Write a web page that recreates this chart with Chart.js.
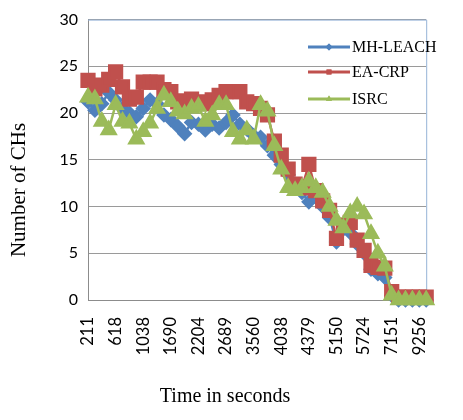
<!DOCTYPE html>
<html>
<head>
<meta charset="utf-8">
<script src="https://cdn.jsdelivr.net/npm/chart.js@4.4.1/dist/chart.umd.min.js"></script>
<style>
  html, body { margin: 0; padding: 0; background: #fff; }
</style>
</head>
<body>
<canvas id="chsChart" width="463" height="420"></canvas>
<script>
// only the labels printed on the axis are known; the rest stay blank
const timeLabels = [
  '211', '', '', '', '618', '', '', '', '1038', '', '', '', '1690', '', '', '', '2204', '', '', '',
  '2689', '', '', '', '3560', '', '', '', '4038', '', '', '', '4379', '', '', '', '5150', '', '', '',
  '5724', '', '', '', '7151', '', '', '', '9256', ''
];
const mhLeach = [
  21.2, 20.3, 21, 22.2, 21.4, 20.5, 20, 19.6, 20.5, 21.4, 21, 19.8, 19.3, 18.6, 17.8, 19, 18.8, 18.2, 18.8, 18.4,
  19, 19.8, 18.8, 18.3, 17.6, 17.4, 16.5, 15.5, 14.5, 13.4, 12.3, 11.5, 10.5, 11, 10, 8.8, 6.2, 7.6, 7.2, 6,
  5, 3.3, 2.8, 2.4, 0.5, 0, 0, 0, 0, 0
];
const eaCrp = [
  23.5, 22.6, 23, 23.6, 24.4, 22.8, 21.5, 21.7, 23.3, 23.3, 23.3, 22.5, 22.3, 21.2, 21.3, 21.5, 21.2, 21, 21.4, 21.9,
  22.3, 22.3, 22.3, 21.2, 21, 20.5, 19.8, 17, 15.5, 14, 12.4, 12, 14.5, 11.7, 10.6, 9.6, 6.6, 8, 8.3, 6.4,
  5.3, 3.7, 3.5, 3.4, 0.9, 0.3, 0.3, 0.3, 0.3, 0.3
];
const isrc = [
  21.7, 21.5, 19.1, 18.2, 20.9, 19.1, 18.9, 17.2, 18, 18.9, 20.5, 21.9, 21.2, 20.2, 19.9, 20.5, 20.7, 19.1, 19.8, 20.9,
  20.9, 18, 17.2, 18.2, 17.2, 20.9, 20.2, 16.5, 14, 12, 11.7, 12, 12.7, 12, 11.5, 10, 8.5, 7.7, 9.3, 10,
  9.2, 7.1, 5, 3.6, 0.5, 0, 0, 0, 0, 0
];
const yTicks = [0, 5, 10, 15, 20, 25, 30];

const BLUE = '#4f81bd';
const RED = '#c0504d';
const GREEN = '#9bbb59';

// legend + axis titles + blue frame drawn by hand, Excel style
const excelBits = {
  id: 'excelBits',
  beforeDatasetsDraw(chart) {
    const { ctx, chartArea: a } = chart;
    ctx.save();
    ctx.strokeStyle = '#95b3d7';
    ctx.lineWidth = 1;
    ctx.beginPath();
    ctx.moveTo(a.left, a.top + 0.5);
    ctx.lineTo(a.right + 0.5, a.top + 0.5);
    ctx.lineTo(a.right + 0.5, a.bottom);
    ctx.stroke();
    ctx.restore();
  },
  afterDraw(chart) {
    const ctx = chart.ctx;
    ctx.save();
    ctx.fillStyle = '#000';
    ctx.font = '20px "Liberation Serif", "Times New Roman", serif';
    ctx.textAlign = 'center';
    ctx.textBaseline = 'middle';
    ctx.fillText('Time in seconds', 225, 397);
    ctx.font = '21px "Liberation Serif", "Times New Roman", serif';
    ctx.translate(19, 190);
    ctx.rotate(-Math.PI / 2);
    ctx.fillText('Number of CHs', 0, 0);
    ctx.restore();

    ctx.save();
    const rows = [47, 72, 99];
    chart.data.datasets.forEach((ds, i) => {
      const y = rows[i];
      ctx.strokeStyle = ds.borderColor;
      ctx.lineWidth = 3;
      ctx.beginPath();
      ctx.moveTo(308, y);
      ctx.lineTo(350, y);
      ctx.stroke();
      ctx.fillStyle = ds.borderColor;
      Chart.helpers.drawPoint(ctx, { pointStyle: ds.pointStyle, radius: 3.5, rotation: 0, borderWidth: 0 }, 329, y);
      ctx.fill();
      ctx.fillStyle = '#000';
      ctx.font = '16px "Liberation Serif", "Times New Roman", serif';
      ctx.textAlign = 'left';
      ctx.textBaseline = 'middle';
      ctx.fillText(ds.label, 352, y + 1);
    });
    ctx.restore();
  }
};

new Chart(document.getElementById('chsChart'), {
  type: 'line',
  data: {
    labels: timeLabels,
    datasets: [{
      label: 'MH-LEACH',
      data: mhLeach,
      borderColor: BLUE,
      backgroundColor: BLUE,
      pointStyle: 'rectRot',
      pointRadius: 6,
      borderWidth: 2.5,
      order: 2,
      clip: false
    }, {
      label: 'EA-CRP',
      data: eaCrp,
      borderColor: RED,
      backgroundColor: RED,
      pointStyle: 'rect',
      pointRadius: 9,
      borderWidth: 2.5,
      order: 1,
      clip: false
    }, {
      label: 'ISRC',
      data: isrc,
      borderColor: GREEN,
      backgroundColor: GREEN,
      pointStyle: 'triangle',
      pointRadius: 8,
      borderWidth: 2.5,
      order: 0,
      clip: false
    }]
  },
  options: {
    responsive: false,
    animation: false,
    events: [],
    layout: { padding: { top: 17, right: 16, left: 0, bottom: 0 } },
    plugins: { legend: { display: false }, tooltip: { enabled: false } },
    elements: { line: { tension: 0 }, point: { borderWidth: 0 } },
    scales: {
      x: {
        offset: false,
        grid: { display: false, drawTicks: false },
        border: { display: true, color: '#8c8c8c', width: 1 },
        afterFit(scale) { scale.height = 120; },
        ticks: {
          autoSkip: false,
          minRotation: 90,
          maxRotation: 90,
          padding: 17,
          color: '#000',
          font: { family: 'Lato, "Open Sans", sans-serif', size: 16.5 },
          callback(value, index) { return index % 4 === 0 ? timeLabels[index] : ''; }
        }
      },
      y: {
        min: 0,
        max: 30,
        afterFit(scale) { scale.width = 88; },
        afterBuildTicks(scale) { scale.ticks = yTicks.map(v => ({ value: v })); },
        grid: { color: '#9a9a9a', drawTicks: false },
        border: { display: true, color: '#8c8c8c', width: 1 },
        ticks: {
          padding: 10,
          color: '#000',
          font: { family: 'Lato, "Open Sans", sans-serif', size: 16 }
        }
      }
    }
  },
  plugins: [excelBits]
});
</script>
</body>
</html>
